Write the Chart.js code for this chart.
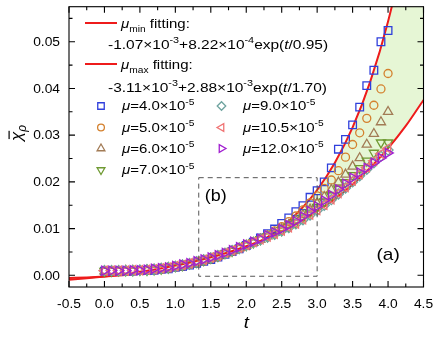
<!DOCTYPE html>
<html><head><meta charset="utf-8">
<script src="https://cdn.jsdelivr.net/npm/chart.js@4.4.1/dist/chart.umd.min.js"></script>
<style>html,body{margin:0;padding:0;background:#fff}canvas{display:block}</style>
</head><body>
<canvas id="c" width="436" height="337"></canvas>
<script>
// ---------- data ----------
const tValues = [0.0,0.1,0.2,0.3,0.4,0.5,0.6,0.7,0.8,0.9,1.0,1.1,1.2,1.3,1.4,1.5,1.6,1.7,1.8,1.9,2.0,2.1,2.2,2.3,2.4,2.5,2.6,2.7,2.8,2.9,3.0,3.1,3.2,3.3,3.4,3.5,3.6,3.7,3.8,3.9,4.0];
const mu40 = [0.0009,0.0009,0.0009,0.0009,0.0009,0.0010,0.0010,0.0011,0.0013,0.0014,0.0017,0.0019,0.0022,0.0026,0.0030,0.0034,0.0039,0.0045,0.0051,0.0057,0.0064,0.0071,0.0080,0.0089,0.0099,0.0111,0.0123,0.0136,0.0149,0.0167,0.0181,0.0200,0.0230,0.0270,0.0291,0.0322,0.0360,0.0406,0.0439,0.0500,0.0524];
const mu50 = [0.0009,0.0009,0.0009,0.0009,0.0010,0.0010,0.0011,0.0012,0.0013,0.0015,0.0018,0.0020,0.0023,0.0027,0.0031,0.0035,0.0040,0.0046,0.0052,0.0058,0.0064,0.0071,0.0078,0.0086,0.0095,0.0104,0.0115,0.0127,0.0140,0.0155,0.0170,0.0186,0.0204,0.0224,0.0253,0.0280,0.0305,0.0336,0.0364,0.0399,0.0432];
const mu60 = [0.0009,0.0009,0.0009,0.0010,0.0010,0.0010,0.0011,0.0012,0.0014,0.0016,0.0018,0.0021,0.0024,0.0028,0.0032,0.0036,0.0041,0.0046,0.0052,0.0058,0.0064,0.0070,0.0077,0.0084,0.0091,0.0099,0.0108,0.0118,0.0129,0.0141,0.0154,0.0168,0.0183,0.0199,0.0216,0.0233,0.0251,0.0280,0.0303,0.0328,0.0350];
const mu70 = [0.0009,0.0009,0.0010,0.0010,0.0010,0.0011,0.0011,0.0012,0.0014,0.0016,0.0019,0.0021,0.0025,0.0028,0.0032,0.0037,0.0041,0.0047,0.0052,0.0058,0.0064,0.0070,0.0077,0.0083,0.0089,0.0096,0.0104,0.0113,0.0123,0.0134,0.0146,0.0158,0.0171,0.0185,0.0199,0.0214,0.0229,0.0245,0.0262,0.0284,0.0284];
const mu90 = [0.0010,0.0010,0.0010,0.0010,0.0010,0.0011,0.0012,0.0013,0.0015,0.0017,0.0019,0.0022,0.0025,0.0029,0.0033,0.0037,0.0042,0.0047,0.0053,0.0058,0.0064,0.0070,0.0076,0.0082,0.0088,0.0095,0.0102,0.0110,0.0119,0.0129,0.0139,0.0150,0.0162,0.0174,0.0187,0.0200,0.0213,0.0227,0.0241,0.0255,0.0268];
const mu105 = [0.0010,0.0010,0.0010,0.0010,0.0011,0.0011,0.0012,0.0013,0.0015,0.0017,0.0020,0.0022,0.0026,0.0029,0.0033,0.0038,0.0042,0.0048,0.0053,0.0059,0.0065,0.0071,0.0077,0.0083,0.0089,0.0096,0.0103,0.0111,0.0120,0.0130,0.0140,0.0151,0.0163,0.0176,0.0189,0.0203,0.0217,0.0231,0.0245,0.0260,0.0272];
const mu120 = [0.0010,0.0010,0.0010,0.0010,0.0011,0.0011,0.0012,0.0014,0.0015,0.0017,0.0020,0.0023,0.0026,0.0030,0.0034,0.0038,0.0043,0.0048,0.0054,0.0060,0.0066,0.0072,0.0078,0.0086,0.0092,0.0099,0.0107,0.0116,0.0126,0.0137,0.0148,0.0160,0.0172,0.0184,0.0196,0.0209,0.0220,0.0230,0.0241,0.0251,0.0262];

// fitting curves (values read at sample times)
const fitT   = [-0.5,-0.25,0,0.25,0.5,0.75,1,1.25,1.5,1.75,2,2.25,2.5,2.75,3,3.25,3.5,3.75,4,4.25,4.5];
const fitMin = [-0.00058,-0.00044,-0.00025,0.00000,0.00032,0.00074,0.00129,0.00199,0.00292,0.00412,0.00568,0.00771,0.01035,0.01379,0.01826,0.02409,0.03166,0.04151,0.05433,0.07100,0.09270];
const fitMax = [-0.00096,-0.00062,-0.00023,0.00023,0.00076,0.00137,0.00208,0.00290,0.00385,0.00495,0.00623,0.00771,0.00942,0.01141,0.01371,0.01637,0.01946,0.02304,0.02718,0.03198,0.03754];

const xTicks = [-0.5,0.0,0.5,1.0,1.5,2.0,2.5,3.0,3.5,4.0,4.5];
const yTicks = [0.00,0.01,0.02,0.03,0.04,0.05];
const muLabels = ['4.0','5.0','6.0','7.0','9.0','10.5','12.0'];
const fitNames = ['min','max'];
const fitFormulas = [['-1.07','-3','+8.22','-4','0.95'],['-3.11','-3','+2.88','-3','1.70']];

// ---------- styling ----------
const FONT = '"Liberation Sans", Arial, Helvetica, sans-serif';
const seriesStyle = [
  {c:'#2f3fdc', s:'rect', r:5.4, rot:0},
  {c:'#d4812e', s:'circle', r:4, rot:0},
  {c:'#a27b55', s:'triangle', r:5.3, rot:0},
  {c:'#6f9a32', s:'triangle', r:5.3, rot:180},
  {c:'#6ea39f', s:'rectRot', r:5, rot:0},
  {c:'#f07474', s:'triangle', r:5.3, rot:270},
  {c:'#a11fd0', s:'triangle', r:5.3, rot:90}
];
const seriesData = [mu40, mu50, mu60, mu70, mu90, mu105, mu120];

function pts(xs, ys){ return xs.map((v,i)=>({x:v, y:ys[i]})); }

const datasets = [
  {data: pts(fitT, fitMin), borderColor:'#ee1b1b', borderWidth:2, pointRadius:0, fill:'+1', backgroundColor:'#e6f6d5', cubicInterpolationMode:'monotone', order:20},
  {data: pts(fitT, fitMax), borderColor:'#ee1b1b', borderWidth:2, pointRadius:0, fill:false, cubicInterpolationMode:'monotone', order:19}
];
seriesData.forEach((arr, k) => {
  const st = seriesStyle[k];
  datasets.push({data: pts(tValues, arr), showLine:false, pointStyle:st.s, pointRadius:st.r, pointRotation:st.rot,
    pointBorderColor:st.c, pointBackgroundColor:'rgba(0,0,0,0)', pointBorderWidth:1.3, borderColor:st.c, order:7-k});
});

function sText(ctx, str, x, y, size, o){
  o = o || {};
  const s = o.stretch == null ? 1.15 : o.stretch;
  ctx.save();
  ctx.font = (o.italic ? 'italic ' : '') + size + 'px ' + FONT;
  ctx.textAlign = o.align || 'left';
  ctx.textBaseline = 'alphabetic';
  ctx.fillStyle = o.color || '#000';
  ctx.translate(x, y); ctx.scale(s, 1);
  ctx.fillText(str, 0, 0);
  const w = ctx.measureText(str).width * s;
  ctx.restore();
  return w;
}
function rich(ctx, parts, x, y, size, s, supRatio){
  const sr = supRatio || 0.68;
  for (const p of parts){
    const sz = p.k ? size*sr : size;
    const dy = p.k === 'sub' ? size*0.32 : (p.k === 'sup' ? -size*0.42 : 0);
    x += sText(ctx, p.t, x, y+dy, sz, {italic:p.i, stretch:s});
  }
  return x;
}

const deco = {
  id:'deco',
  afterDraw(chart){
    const ctx = chart.ctx, a = chart.chartArea, X = chart.scales.x, Y = chart.scales.y;
    ctx.save();
    // zoom box (b)
    ctx.strokeStyle = '#555'; ctx.lineWidth = 1; ctx.setLineDash([5,4]);
    const bx0 = X.getPixelForValue(1.33), bx1 = X.getPixelForValue(3.0);
    const by0 = Y.getPixelForValue(-0.0002), by1 = Y.getPixelForValue(0.0209);
    ctx.strokeRect(bx0, by1, bx1-bx0, by0-by1);
    ctx.setLineDash([]);
    sText(ctx, '(b)', bx0+6, by1+23, 16, {stretch:1.12});
    sText(ctx, '(a)', a.right-47, a.bottom-27, 17, {stretch:1.12});

    // frame
    ctx.strokeStyle = '#000'; ctx.lineWidth = 1.1;
    ctx.strokeRect(a.left, a.top, a.right-a.left, a.bottom-a.top);
    // ticks
    const MJ = 6, MN = 3.5;
    ctx.beginPath();
    xTicks.forEach((v,i)=>{
      const p = X.getPixelForValue(v);
      ctx.moveTo(p, a.bottom); ctx.lineTo(p, a.bottom-MJ);
      ctx.moveTo(p, a.top); ctx.lineTo(p, a.top+MJ);
      if (i < xTicks.length-1){
        const m = X.getPixelForValue((v + xTicks[i+1])/2);
        ctx.moveTo(m, a.bottom); ctx.lineTo(m, a.bottom-MN);
        ctx.moveTo(m, a.top); ctx.lineTo(m, a.top+MN);
      }
    });
    const yAll = [yTicks[0]-0.005].concat(yTicks);
    yAll.forEach((v,i)=>{
      const p = Y.getPixelForValue(v);
      if (i > 0){
        ctx.moveTo(a.left, p); ctx.lineTo(a.left+MJ, p);
        ctx.moveTo(a.right, p); ctx.lineTo(a.right-MJ, p);
      }
      const m = Y.getPixelForValue(v + 0.005);
      if (m > a.top+1 && m < a.bottom-1){
        ctx.moveTo(a.left, m); ctx.lineTo(a.left+MN, m);
        ctx.moveTo(a.right, m); ctx.lineTo(a.right-MN, m);
      }
    });
    ctx.stroke();

    // tick labels
    xTicks.forEach(v=>{
      sText(ctx, v.toFixed(1), X.getPixelForValue(v), a.bottom+21, 12, {align:'center', stretch:1.15});
    });
    yTicks.forEach(v=>{
      sText(ctx, v.toFixed(2), a.left-9, Y.getPixelForValue(v)+4.3, 12, {align:'right', stretch:1.15});
    });
    // axis titles
    sText(ctx, 't', (a.left+a.right)/2, a.bottom+41, 17, {italic:true, align:'center', stretch:1.1});
    ctx.save();
    ctx.translate(22, 133); ctx.rotate(-Math.PI/2);
    ctx.fillStyle = '#000';
    ctx.font = 'italic 17px ' + FONT;
    const wc = ctx.measureText('χ').width;
    ctx.font = 'italic 12px ' + FONT;
    const wr = ctx.measureText('ρ').width;
    let u = -(wc + wr)/2;
    ctx.font = 'italic 17px ' + FONT;
    ctx.fillText('χ', u, 0);
    ctx.fillRect(u+2, -13.5, wc-1, 1.2);
    ctx.font = 'italic 12px ' + FONT;
    ctx.fillText('ρ', u+wc, 4);
    ctx.restore();

    // legend: fitting lines
    ctx.strokeStyle = '#ee1b1b'; ctx.lineWidth = 2;
    const fitRowsY = [28, 69];
    const formRowsY = [48.5, 91.5];
    fitNames.forEach((nm, i)=>{
      ctx.beginPath(); ctx.moveTo(85, fitRowsY[i]-5); ctx.lineTo(117, fitRowsY[i]-5); ctx.stroke();
      rich(ctx, [{t:'μ', i:true},{t:nm, k:'sub'},{t:' fitting:'}], 121, fitRowsY[i], 12.5, 1.2);
      const f = fitFormulas[i];
      rich(ctx, [{t:f[0]+'×10'},{t:f[1],k:'sup'},{t:f[2]+'×10'},{t:f[3],k:'sup'},{t:'exp('},{t:'t',i:true},{t:'/'+f[4]+')'}], 108, formRowsY[i], 13, 1.19, 0.7);
    });
    // legend: series
    const rowY = [110, 131.5, 152.5, 174];
    muLabels.forEach((m, k)=>{
      const col = k < 4 ? 0 : 1, row = k < 4 ? k : k-4;
      const st = seriesStyle[k];
      const mx = col ? 221.5 : 101, tx = col ? 243 : 122;
      ctx.strokeStyle = st.c; ctx.lineWidth = 1.3; ctx.fillStyle = 'rgba(0,0,0,0)';
      Chart.helpers.drawPoint(ctx, {pointStyle:st.s, radius:st.r*0.85, rotation:st.rot, borderWidth:1.3}, mx, rowY[row]-4);
      rich(ctx, [{t:'μ', i:true},{t:'='+m+'×10'},{t:'-5',k:'sup'}], tx, rowY[row], 12.5, 1.2);
    });
    ctx.restore();
  }
};

new Chart(document.getElementById('c'), {
  type:'line',
  data:{datasets},
  options:{
    responsive:false, animation:false, devicePixelRatio:1, events:[],
    layout:{padding:{left:0, right:12.5, top:1, bottom:0}},
    plugins:{legend:{display:false}, tooltip:{enabled:false}},
    scales:{
      x:{type:'linear', min:-0.5, max:4.5,
         afterBuildTicks:s=>{ s.ticks = xTicks.map(v=>({value:v})); },
         afterFit:s=>{ s.height = 50; },
         ticks:{display:false}, grid:{display:false}, border:{display:false}},
      y:{type:'linear', min:-0.0025, max:0.0575,
         afterBuildTicks:s=>{ s.ticks = yTicks.map(v=>({value:v})); },
         afterFit:s=>{ s.width = 69; },
         ticks:{display:false}, grid:{display:false}, border:{display:false}}
    }
  },
  plugins:[deco]
});
</script>
</body></html>
